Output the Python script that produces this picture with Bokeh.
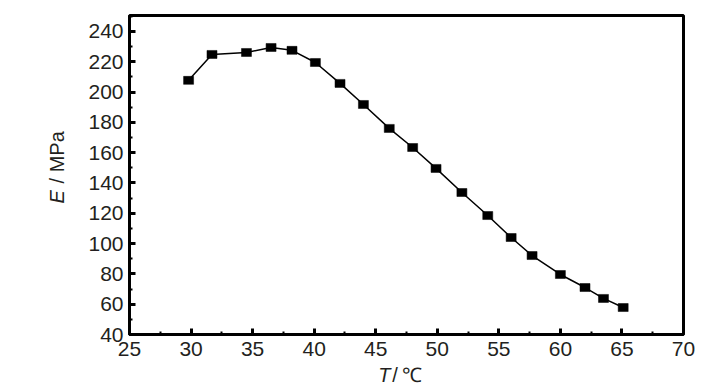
import math
from bokeh.plotting import figure
from bokeh.models import Range1d, FixedTicker, Label
from bokeh.embed import file_html
from bokeh.resources import INLINE

T = [29.8, 31.7, 34.5, 36.5, 38.2, 40.1, 42.1, 44.0, 46.1, 48.0, 49.9, 52.0, 54.1, 56.0, 57.7, 60.0, 62.0, 63.5, 65.1]
E = [207.7, 224.8, 226.1, 229.4, 227.5, 219.5, 205.7, 191.8, 176.0, 163.4, 149.6, 133.7, 118.5, 104.0, 92.1, 79.6, 71.0, 63.8, 57.8]
x_ticks = [25, 30, 35, 40, 45, 50, 55, 60, 65, 70]
y_ticks = [40, 60, 80, 100, 120, 140, 160, 180, 200, 220, 240]

FONT = "Liberation Sans"
TXT = "#231f20"

p = figure(output_backend="svg", toolbar_location=None,
           frame_width=554, frame_height=319,
           min_border_left=129, min_border_top=15, min_border_right=30, min_border_bottom=54,
           x_range=Range1d(25, 70), y_range=Range1d(40, 250.5))
p.background_fill_color = "white"
p.border_fill_color = "white"
p.grid.visible = False
p.outline_line_color = "black"
p.outline_line_width = 3

for ax in (p.xaxis[0], p.yaxis[0]):
    ax.axis_line_width = 3
    ax.axis_line_color = "black"
    ax.major_tick_in = 6
    ax.major_tick_out = 0
    ax.minor_tick_in = 3
    ax.minor_tick_out = 0
    ax.major_tick_line_width = 3
    ax.minor_tick_line_width = 2
    ax.major_tick_line_color = "black"
    ax.minor_tick_line_color = "black"
    ax.major_label_text_font = FONT
    ax.major_label_text_font_size = "21px"
    ax.major_label_text_color = TXT

p.xaxis[0].ticker = FixedTicker(ticks=x_ticks, minor_ticks=[t + 2.5 for t in x_ticks[:-1]])
p.yaxis[0].ticker = FixedTicker(ticks=y_ticks, minor_ticks=[t + 10 for t in y_ticks])
p.xaxis[0].major_label_standoff = 7
p.yaxis[0].major_label_standoff = 6

p.line(T, E, line_color="black", line_width=1.5)
p.rect(T, E, width=10, height=8, width_units="screen", height_units="screen",
       fill_color="black", line_color="black", line_width=0.5)

# axis titles (mixed italic / upright), placed in side panels so they are not clipped
ty = 13.6
p.add_layout(Label(x=45.2, y=ty, text="T", text_font=FONT, text_font_style="italic",
                   text_font_size="20px", text_color=TXT, text_align="left", text_baseline="middle"), "below")
p.add_layout(Label(x=46.35, y=ty, text="/", text_font=FONT,
                   text_font_size="20px", text_color=TXT, text_align="left", text_baseline="middle"), "below")
p.add_layout(Label(x=47.15, y=ty, text="\u2103", text_font="Liberation Serif",
                   text_font_size="20px", text_color=TXT, text_align="left", text_baseline="middle"), "below")

ex = 19.15
p.add_layout(Label(x=ex, y=126.5, text="E", text_font=FONT, text_font_style="italic",
                   text_font_size="20px", text_color=TXT, angle=math.pi / 2,
                   text_align="left", text_baseline="middle"), "left")
p.add_layout(Label(x=ex, y=139.7, text="/ MPa", text_font=FONT,
                   text_font_size="20px", text_color=TXT, angle=math.pi / 2,
                   text_align="left", text_baseline="middle"), "left")

open("out.html", "w").write(file_html(p, INLINE))
